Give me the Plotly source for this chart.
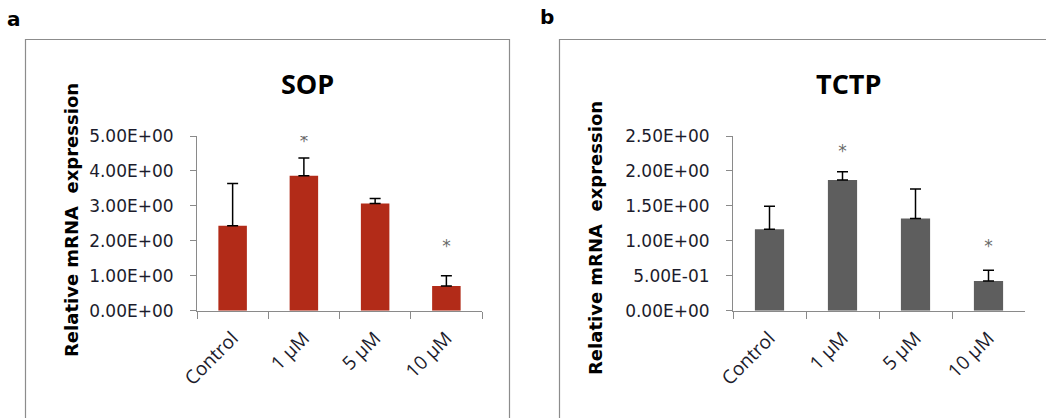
import plotly.graph_objects as go

categories = ["Control", "1 µM", "5 µM", "10 µM"]

sop_values = [2.43, 3.86, 3.07, 0.71]
sop_errors = [1.21, 0.51, 0.14, 0.29]
sop_star_y = [None, 4.8, None, 1.8]

tctp_values = [1.165, 1.87, 1.32, 0.425]
tctp_errors = [0.33, 0.12, 0.42, 0.155]
tctp_star_y = [None, 2.26, None, 0.9]

sop_ticks = [0, 1, 2, 3, 4, 5]
tctp_ticks = [0, 0.5, 1.0, 1.5, 2.0, 2.5]

W, H = 1046, 418
def px(x):
    return x / W
def py(y):
    return 1 - y / H

fig = go.Figure()

fig.add_trace(go.Bar(
    x=categories, y=sop_values, width=0.4,
    marker=dict(color="#B22B18", line=dict(width=0)),
    error_y=dict(type="data", symmetric=False, array=sop_errors,
                 arrayminus=[0] * len(sop_errors), color="black",
                 thickness=1.5, width=5.5),
    xaxis="x", yaxis="y", showlegend=False))

fig.add_trace(go.Bar(
    x=categories, y=tctp_values, width=0.4,
    marker=dict(color="#5E5E5E", line=dict(width=0)),
    error_y=dict(type="data", symmetric=False, array=tctp_errors,
                 arrayminus=[0] * len(tctp_errors), color="black",
                 thickness=1.5, width=5.5),
    xaxis="x2", yaxis="y2", showlegend=False))

star_font = dict(family="DejaVu Sans", size=17, color="#6a6a6a")
fig.add_trace(go.Scatter(
    x=categories, y=sop_star_y, mode="text",
    text=["*" if v is not None else "" for v in sop_star_y],
    textfont=star_font, xaxis="x", yaxis="y", showlegend=False,
    hoverinfo="skip"))
fig.add_trace(go.Scatter(
    x=categories, y=tctp_star_y, mode="text",
    text=["*" if v is not None else "" for v in tctp_star_y],
    textfont=star_font, xaxis="x2", yaxis="y2", showlegend=False,
    hoverinfo="skip"))

tick_font = dict(family="DejaVu Sans", size=17, color="#1c1c2c")
xtick_font = dict(family="Open Sans", size=19, color="#1c1c2c")
axis_color = "#8a8a8a"

ydom = [py(310.7), py(136)]

common_x = dict(type="category", showline=True, linecolor=axis_color, linewidth=1,
                ticks="outside", tickson="boundaries", ticklen=7, tickcolor=axis_color,
                tickangle=-45, tickfont=xtick_font, showgrid=False, zeroline=False,
                range=[-0.5, 3.5], fixedrange=True, ticklabelstandoff=8,
                automargin=False)
common_y = dict(showline=True, linecolor=axis_color, linewidth=1, ticks="outside",
                ticklen=6, tickcolor=axis_color, tickfont=tick_font, showgrid=False,
                zeroline=False, domain=ydom, ticklabelstandoff=13, automargin=False)

fig.update_layout(
    width=W, height=H, autosize=False,
    margin=dict(l=0, r=0, t=0, b=0, pad=0, autoexpand=False),
    paper_bgcolor="white", plot_bgcolor="white",
    bargap=0.6,
    xaxis=dict(domain=[px(197), px(482)], anchor="y", **common_x),
    yaxis=dict(anchor="x", range=[0, 5], tickvals=sop_ticks,
               ticktext=[f"{v:.2E}" for v in sop_ticks], **common_y),
    xaxis2=dict(domain=[px(733), px(1025)], anchor="y2", **common_x),
    yaxis2=dict(anchor="x2", range=[0, 2.5], tickvals=tctp_ticks,
                ticktext=[f"{v:.2E}" for v in tctp_ticks], **common_y),
)

frame_color = "#8c8c8c"
fig.add_shape(type="rect", xref="paper", yref="paper",
              x0=px(25.5), x1=px(509.5), y0=py(430), y1=py(39.5),
              line=dict(color=frame_color, width=1.2))
fig.add_shape(type="rect", xref="paper", yref="paper",
              x0=px(559.5), x1=px(1060), y0=py(430), y1=py(39.5),
              line=dict(color=frame_color, width=1.2))

title_font = dict(family="Open Sans", size=27, color="black")
ytitle_font = dict(family="DejaVu Sans", size=18, color="black")
letter_font = dict(family="DejaVu Sans", size=20, color="black")

annos = [
    dict(text="<b>a</b>", x=px(13.5), y=py(19), font=letter_font),
    dict(text="<b>b</b>", x=px(547), y=py(17), font=letter_font),
    dict(text="<b>SOP</b>", x=px(307), y=py(84), font=title_font),
    dict(text="<b>TCTP</b>", x=px(848), y=py(84), font=title_font),
    dict(text="<b>Relative mRNA  expression</b>", x=px(71), y=py(220),
         font=ytitle_font, textangle=-90),
    dict(text="<b>Relative mRNA  expression</b>", x=px(595), y=py(238),
         font=ytitle_font, textangle=-90),
]
for a in annos:
    a.update(xref="paper", yref="paper", showarrow=False,
             xanchor="center", yanchor="middle")
    fig.add_annotation(**a)

fig.write_html("out.html",
               config={"displayModeBar": False, "staticPlot": True},
               post_script="document.body.style.margin='0';document.body.style.overflow='hidden';")
